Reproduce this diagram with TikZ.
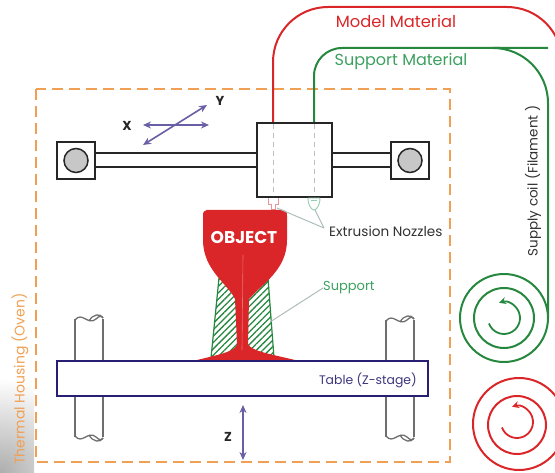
\documentclass[tikz,border=0pt]{standalone}
\usepackage{fontspec}
\setmainfont{Poppins}
\usetikzlibrary{arrows.meta,patterns.meta}
\definecolor{modelred}{RGB}{218,38,40}
\definecolor{lightred}{RGB}{235,150,150}
\definecolor{supgreen}{RGB}{38,135,62}
\definecolor{labgreen}{RGB}{60,160,95}
\definecolor{lightgreen}{RGB}{150,205,175}
\definecolor{ovenorange}{RGB}{240,160,85}
\definecolor{tablenavy}{RGB}{40,30,115}
\definecolor{tabletext}{RGB}{60,55,125}
\definecolor{axispurple}{RGB}{105,95,165}
\definecolor{leadgray}{RGB}{175,188,188}
\definecolor{rodgray}{RGB}{110,110,110}
\definecolor{textdark}{RGB}{50,50,50}

\tikzset{
  oven/.style={draw=ovenorange, line width=2pt, dash pattern=on 11pt off 6pt},
  frame/.style={draw=black!85, line width=1.5pt},
  feedred/.style={draw=modelred, line width=2pt},
  feedgreen/.style={draw=supgreen, line width=2pt},
  guide/.style={draw=black!25, line width=0.8pt, dash pattern=on 5pt off 4pt},
  leader/.style={draw=leadgray, line width=1pt},
  column/.style={draw=rodgray, line width=1.3pt},
  axis/.style={draw=axispurple, line width=1.6pt, {Stealth[length=8pt,width=7pt]}-{Stealth[length=8pt,width=7pt]}},
  axislabel/.style={font=\fontsize{13}{13}\selectfont\bfseries, text=black!85},
  lbl/.style={font=\fontsize{13.5}{15}\selectfont, inner sep=0pt},
}

\begin{document}
\begin{tikzpicture}[x=1pt,y=-1pt]
\useasboundingbox (0,0) rectangle (555,473);
\clip (0,0) rectangle (555,473);

% soft shadow in the lower left corner
\begin{scope}
  \clip (0,380) rectangle (34,473);
  \shade[inner color=black!32, outer color=white] (0,473) circle[radius=95];
\end{scope}

% thermal housing (oven)
\draw[oven] (36,89) rectangle (450,462);
\node[lbl, text=ovenorange, rotate=90, font=\fontsize{14}{15}\selectfont] (ovenlabel) at (20,379) {Thermal Housing (Oven)};

% filament feeds from the supply coils to the extrusion head
\draw[feedred, rounded corners=55] (273,123) -- (273,7) -- (562,7) -- (562,424);
\draw[feedgreen, rounded corners=28] (314,123) -- (314,48) -- (548,48);
\draw[feedgreen, rounded corners=55] (500,48) -- (548,48) -- (548,318);

% supply coils
\draw[supgreen, line width=2pt] (504,318) circle[radius=44];
\draw[supgreen, line width=2pt] (504,318) circle[radius=30];
\draw[supgreen, line width=1.8pt, -{Stealth[length=7pt,width=7pt]}]
  (504,318) ++(160:16) arc[start angle=160, end angle=-108, radius=16];
\draw[modelred, line width=2pt] (519,424) circle[radius=46];
\draw[modelred, line width=2pt] (517,425) circle[radius=29];
\draw[modelred, line width=1.8pt, -{Stealth[length=7pt,width=7pt]}]
  (517,422) ++(160:16) arc[start angle=160, end angle=-108, radius=16];
\node[lbl, text=textdark, rotate=90] (coillabel) at (533,181) {Supply coil (Filament )};

% guide rods and bearings
\draw[frame] (95,153) -- (257,153) (95,167) -- (257,167);
\draw[frame] (332,153) -- (391,153) (332,167) -- (391,167);
\draw[frame, fill=white] (57,142) rectangle (95,179);
\draw[frame, fill=black!22] (76,160.5) circle[radius=12];
\draw[frame, fill=white] (391,142) rectangle (429,179);
\draw[frame, fill=black!22] (410,160.5) circle[radius=12];

% extrusion head
\draw[frame, fill=white] (257,123) rectangle (332,197);
\draw[guide] (273,124) -- (273,196);
\draw[guide] (314,124) -- (314,196);

% nozzles
\draw[lightred, line width=0.9pt] (268,198) -- (268,204) -- (271,204) -- (271,209) -- (275,209) -- (275,204) -- (278,204) -- (278,198);
\coordinate (rednozzle) at (277,208);
\draw[lightgreen, line width=0.9pt] (308,198) -- (320,198) .. controls (320,206) and (316,210) .. (314,210) .. controls (312,210) and (308,206) .. (308,198);
\draw[lightgreen, line width=0.7pt] (311,200) -- (317,200);
\coordinate (greennozzle) at (315,210);

% axes
\draw[axis] (143,125) -- (209,125);
\draw[axis] (143,145) -- (207,105);
\node[axislabel] (xlabel) at (127,126) {X};
\node[axislabel] (ylabel) at (220,101) {Y};

% table columns
\begin{scope}[column]
  \draw (75,319) -- (75,437) (103,319) -- (103,437);
  \draw (75,320) .. controls (82,311) and (88,326) .. (96,319) .. controls (99,316) and (102,315) .. (103,318);
  \draw (89,321) .. controls (93,314) and (100,313) .. (103,318);
  \draw (75,436) .. controls (82,445) and (88,430) .. (96,437) .. controls (99,440) and (102,441) .. (103,438);
  \draw (89,435) .. controls (93,442) and (100,443) .. (103,438);
  \draw (386,320) -- (386,437) (414,320) -- (414,437);
  \draw (386,321) .. controls (393,312) and (399,327) .. (407,320) .. controls (410,317) and (413,316) .. (414,319);
  \draw (400,322) .. controls (404,315) and (411,314) .. (414,319);
  \draw (386,436) .. controls (393,445) and (399,430) .. (407,437) .. controls (410,440) and (413,441) .. (414,438);
  \draw (400,435) .. controls (404,442) and (411,443) .. (414,438);
\end{scope}

% table (z-stage)
\draw[tablenavy, line width=2pt, fill=white] (57,361) rectangle (428,396);
\node[lbl, text=tabletext, anchor=east, font=\fontsize{12.4}{14}\selectfont] (tablelabel) at (417,380) {Table (Z-stage)};
\draw[axis] (243,405) -- (243,460);
\node[axislabel] (zlabel) at (228,437) {Z};

% support structure
\draw[supgreen, line width=1.2pt, pattern={Lines[angle=45,distance=4.5pt,line width=1.3pt]}, pattern color=supgreen]
  (219,278) -- (268,278) -- (274,358) -- (211,358) -- cycle;

% printed object
\fill[modelred]
  (245,210) -- (207,210) .. controls (204,210) and (203,212) .. (203,216)
  -- (203,240) .. controls (203,270) and (228,284) .. (235,299)
  -- (237,344) .. controls (236,351) and (222,354) .. (197,360)
  -- (295,360) .. controls (270,354) and (251,351) .. (248,344)
  -- (249,299) .. controls (262,284) and (287,270) .. (287,240)
  -- (287,216) .. controls (287,212) and (286,210) .. (283,210) -- cycle;
\draw[white, opacity=0.35, line width=0.6pt] (243,255) -- (242,350);
\node[font=\fontsize{17}{17}\selectfont\bfseries, text=white] (objlabel) at (244,238) {OBJECT};

% labels and leader lines
\node[lbl, text=modelred, font=\fontsize{16.3}{18}\selectfont] (modellabel) at (396,21) {Model Material};
\node[lbl, text=labgreen, font=\fontsize{16}{18}\selectfont] (supportmatlabel) at (401,61) {Support Material};
\node[lbl, text=textdark, anchor=west, font=\fontsize{13.6}{15}\selectfont] (nozzlelabel) at (329,231) {Extrusion Nozzles};
\coordinate (nozzlejoin) at (324,228);
\draw[leader] (nozzlejoin) -- (rednozzle);
\draw[leader] (nozzlejoin) -- (greennozzle);
\node[lbl, text=labgreen, anchor=west, font=\fontsize{13}{14}\selectfont] (supportlabel) at (323,288) {Support};
\coordinate (supportpoint) at (270,322);
\draw[leader] (supportlabel.west) -- (supportpoint);
\end{tikzpicture}
\end{document}
